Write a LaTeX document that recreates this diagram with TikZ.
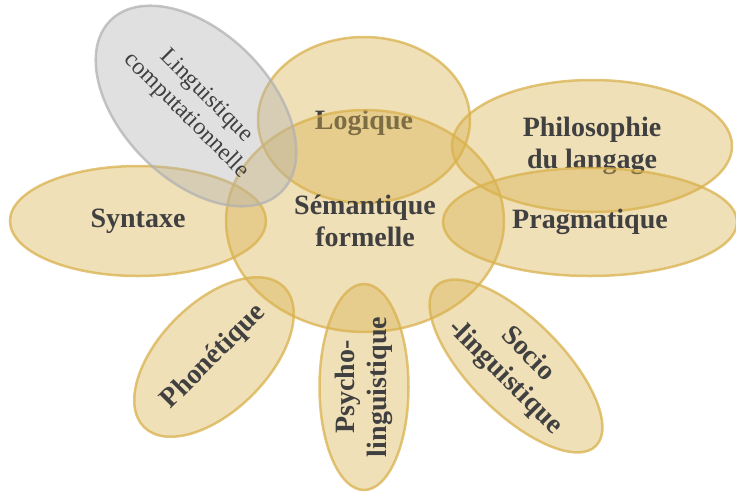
\documentclass[tikz,border=0pt]{standalone}
\usepackage{fontspec}
\setmainfont{Liberation Serif}
\usetikzlibrary{shapes.geometric}
\definecolor{petal}{RGB}{217,177,77}
\definecolor{ling}{RGB}{178,178,178}
\definecolor{ink}{RGB}{64,64,64}
\begin{document}
\begin{tikzpicture}[x=1pt, y=-1pt,
    field/.style={ellipse, draw=petal, fill=petal, fill opacity=0.4, draw opacity=0.75, line width=2.5pt, inner sep=0pt},
    fieldtext/.style={text=ink, fill opacity=1, text opacity=1, font=\fontsize{28}{32}\selectfont\bfseries, align=center, inner sep=0pt}]
    \useasboundingbox (0,0) rectangle (736,491);
    \node[field, minimum width=212, minimum height=166, label={[fieldtext, yshift=-3]center:Logique}] (log) at (364,120) {};
    \node[field, minimum width=278, minimum height=222, label={[fieldtext]center:Sémantique\\formelle}] (sem) at (365,221) {};
    \node[field, minimum width=280, minimum height=132, label={[fieldtext]center:Philosophie\\du langage}] (phil) at (592,146) {};
    \node[field, minimum width=294, minimum height=108, label={[fieldtext]center:Pragmatique}] (prag) at (590,222) {};
    \node[field, minimum width=256, minimum height=110, label={[fieldtext]center:Syntaxe}] (syn) at (138,221) {};
    \node[field, minimum width=198, minimum height=108, rotate=45, label={[fieldtext, rotate=45]center:Phonétique}] (phon) at (214,357) {};
    \node[field, minimum width=206, minimum height=89, rotate=90, label={[fieldtext, rotate=90]center:Psycho-\\linguistique}] (psy) at (364,387) {};
    \node[field, minimum width=226, minimum height=93, rotate=-45, label={[fieldtext, rotate=-45]center:Socio\\-linguistique}] (soc) at (516,366) {};
    \node[field, draw=ling, fill=ling, minimum width=242, minimum height=148, rotate=-45, label={[fieldtext, font=\fontsize{24}{28}\selectfont, rotate=-45]center:Linguistique\\computationnelle}] (comp) at (196,106) {};
\end{tikzpicture}
\end{document}
